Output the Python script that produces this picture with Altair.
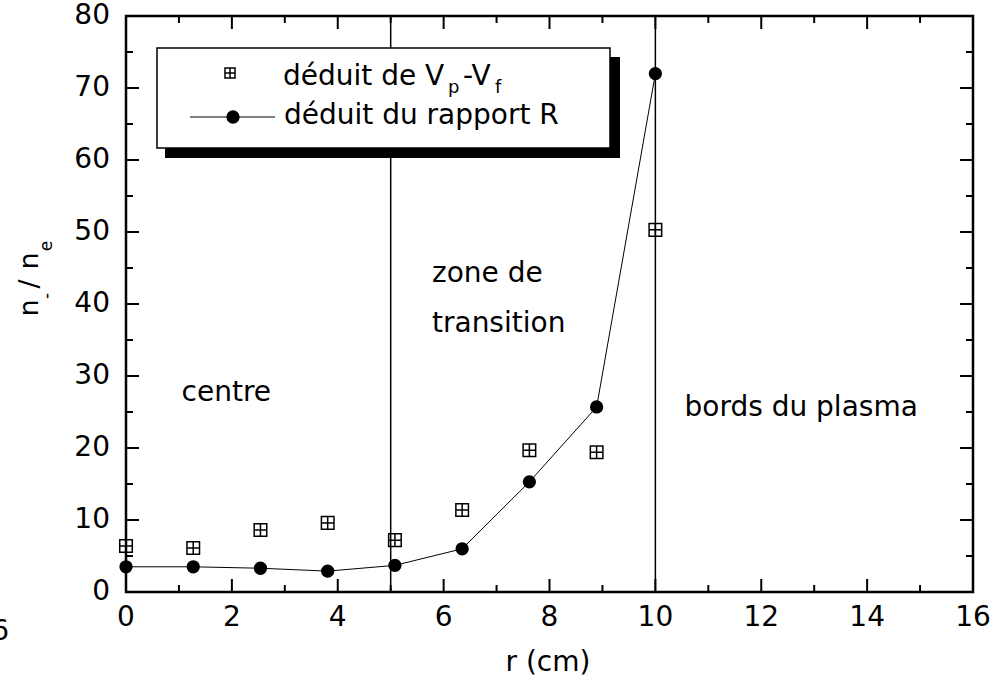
import altair as alt
import pandas as pd

# Radial position (cm) and negative-ion / electron density ratio
r_cm = [0.0, 1.27, 2.54, 3.81, 5.08, 6.35, 7.62, 8.89, 10.0]
ratio_vpvf = [6.4, 6.1, 8.6, 9.6, 7.2, 11.4, 19.7, 19.4, 50.3]   # déduit de Vp-Vf
ratio_R = [3.5, 3.5, 3.3, 2.9, 3.7, 6.0, 15.3, 25.7, 72.0]       # déduit du rapport R

# Boundaries between the three plasma regions
zone_bounds = [5, 10]
region_text = ["centre", "zone de", "transition", "bords du plasma"]
region_x = [1.05, 5.78, 5.78, 10.55]
region_y = [26.5, 43.1, 36.1, 24.5]

# Axis ticks
x_major = list(range(0, 17, 2))
x_minor = list(range(1, 16, 2))
y_major = list(range(0, 81, 10))
y_minor = list(range(5, 80, 10))

W, H = 847, 576
FONT = "DejaVu Sans"
FS = 28
BOXPLUS = "M-1,-1H1V1H-1Z M0,-1V1 M-1,0H1"

xs = alt.Scale(domain=[0, 16], nice=False, zero=False)
ys = alt.Scale(domain=[0, 80], nice=False, zero=False)

df = pd.DataFrame({"r": r_cm, "vpvf": ratio_vpvf, "R": ratio_R})
one = alt.Data(values=[{}])

# Region boundaries
bounds = alt.Chart(pd.DataFrame({"b": zone_bounds})).mark_rule(
    color="black", strokeWidth=1.5
).encode(x=alt.X("b:Q", scale=xs, axis=None), y=alt.value(0), y2=alt.value(H))

# Curve from the R ratio
line_R = alt.Chart(df).mark_line(color="black", strokeWidth=1).encode(
    x=alt.X("r:Q", scale=xs, axis=None),
    y=alt.Y("R:Q", scale=ys, axis=None),
)
pts_R = alt.Chart(df).mark_point(
    shape="circle", filled=True, size=177, color="black", opacity=1
).encode(x=alt.X("r:Q", scale=xs, axis=None), y=alt.Y("R:Q", scale=ys, axis=None))

pts_V = alt.Chart(df).mark_point(
    shape=BOXPLUS, filled=False, size=158, stroke="black", strokeWidth=1.5, opacity=1
).encode(x=alt.X("r:Q", scale=xs, axis=None), y=alt.Y("vpvf:Q", scale=ys, axis=None))

# Region names
regions = alt.Chart(pd.DataFrame({"t": region_text, "x": region_x, "y": region_y})).mark_text(
    font=FONT, fontSize=FS, align="left", baseline="alphabetic", color="black"
).encode(x=alt.X("x:Q", scale=xs, axis=None), y=alt.Y("y:Q", scale=ys, axis=None), text="t:N")

# Tick labels
x_labels = alt.Chart(pd.DataFrame({"t": x_major})).mark_text(
    font=FONT, fontSize=FS, align="center", baseline="top", color="black"
).encode(x=alt.X("t:Q", scale=xs, axis=None), y=alt.value(H + 12), text=alt.Text("t:Q", format="d"))
y_labels = alt.Chart(pd.DataFrame({"t": y_major})).mark_text(
    font=FONT, fontSize=FS, align="right", baseline="middle", color="black"
).encode(y=alt.Y("t:Q", scale=ys, axis=None), x=alt.value(-16), text=alt.Text("t:Q", format="d"))

# Inward ticks on all four sides
def hticks(vals, length):
    d = pd.DataFrame({"t": vals})
    bot = alt.Chart(d).mark_rule(color="black", strokeWidth=2).encode(
        x=alt.X("t:Q", scale=xs, axis=None), y=alt.value(H), y2=alt.value(H - length))
    top = alt.Chart(d).mark_rule(color="black", strokeWidth=2).encode(
        x=alt.X("t:Q", scale=xs, axis=None), y=alt.value(0), y2=alt.value(length))
    return [bot, top]

def vticks(vals, length):
    d = pd.DataFrame({"t": vals})
    left = alt.Chart(d).mark_rule(color="black", strokeWidth=2).encode(
        y=alt.Y("t:Q", scale=ys, axis=None), x=alt.value(0), x2=alt.value(length))
    right = alt.Chart(d).mark_rule(color="black", strokeWidth=2).encode(
        y=alt.Y("t:Q", scale=ys, axis=None), x=alt.value(W), x2=alt.value(W - length))
    return [left, right]

ticks = hticks(x_major, 13) + hticks(x_minor, 7) + vticks(y_major, 13) + vticks(y_minor, 7)

def txt(s, x, y, size=FS, align="left", baseline="alphabetic", angle=0):
    kw = dict(font=FONT, fontSize=size, align=align, baseline=baseline, color="black")
    if angle:
        kw["angle"] = angle
    return alt.Chart(one).mark_text(text=s, **kw).encode(x=alt.value(x), y=alt.value(y))

# Legend box with drop shadow
shadow = alt.Chart(one).mark_rect(color="black").encode(
    x=alt.value(39), x2=alt.value(494), y=alt.value(41), y2=alt.value(142))
box = alt.Chart(one).mark_rect(fill="white", stroke="black", strokeWidth=1.5).encode(
    x=alt.value(31), x2=alt.value(484), y=alt.value(32), y2=alt.value(132))
leg_sq = alt.Chart(one).mark_point(
    shape=BOXPLUS, filled=False, size=100, stroke="black", strokeWidth=1.5, opacity=1
).encode(x=alt.value(104), y=alt.value(57))
leg_line = alt.Chart(one).mark_rule(color="black", strokeWidth=1).encode(
    x=alt.value(64), x2=alt.value(149), y=alt.value(101))
leg_dot = alt.Chart(one).mark_point(
    shape="circle", filled=True, size=177, color="black", opacity=1
).encode(x=alt.value(107), y=alt.value(101))
legend = [
    shadow, box, leg_sq, leg_line, leg_dot,
    txt("déduit de V", 157, 69),
    txt("p", 322, 77, size=18),
    txt("-V", 337, 69),
    txt("f", 369, 77, size=18),
    txt("déduit du rapport R", 158, 108),
]

# Axis titles
titles = [
    txt("r (cm)", 422, 647, align="center", baseline="middle"),
    txt("n", -88, 292, size=27, align="center", angle=270),
    txt("-", -74, 280, size=17, align="center", angle=270),
    txt("/", -88, 268, size=27, align="center", angle=270),
    txt("n", -88, 245, size=27, align="center", angle=270),
    txt("e", -74, 230, size=17, align="center", angle=270),
    txt("6", -117, 624, align="right"),
]

chart = alt.layer(
    bounds, line_R, pts_R, pts_V, regions, x_labels, y_labels, *legend, *ticks, *titles
).properties(
    width=W, height=H,
    autosize=alt.AutoSizeParams(type="none"),
    padding={"left": 126, "top": 16, "right": 32, "bottom": 94},
    background="white",
).configure_view(stroke="black", strokeWidth=2.5)

chart.save("out.html", embed_options={"renderer": "svg", "actions": False})
